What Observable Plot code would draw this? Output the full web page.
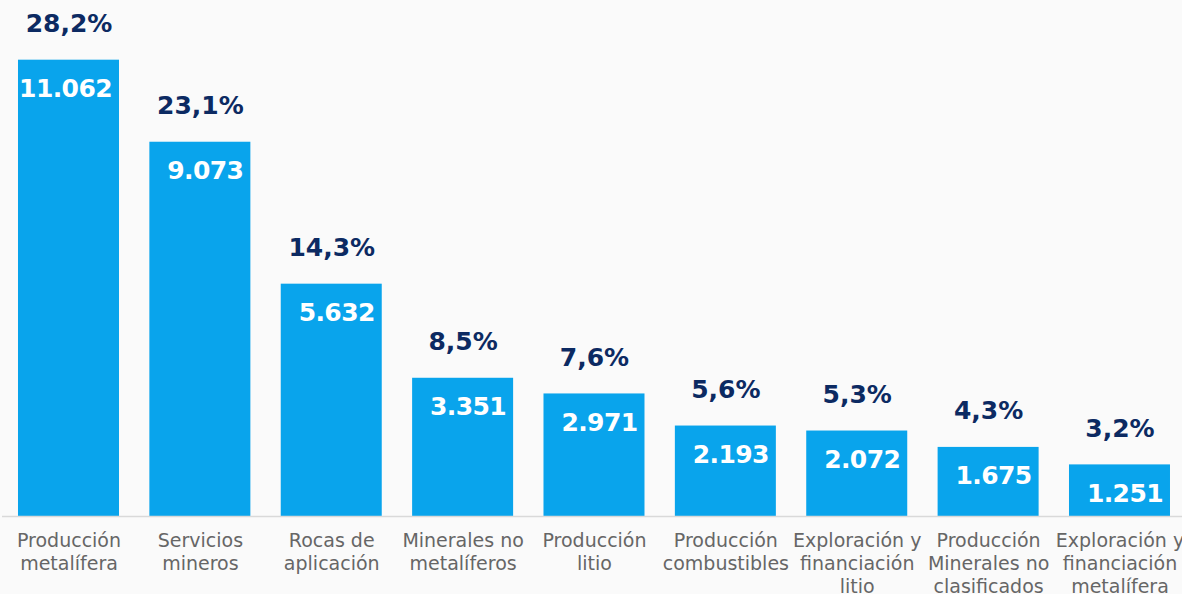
<!DOCTYPE html>
<html>
<head>
<meta charset="utf-8">
<script src="https://cdn.jsdelivr.net/npm/d3@7"></script>
<script src="https://cdn.jsdelivr.net/npm/@observablehq/plot@0.6"></script>
<style>
  html, body { margin: 0; padding: 0; background: #fafafa; }
  #chart svg { display: block; background: #fafafa; }
</style>
</head>
<body>
<div id="chart"></div>
<script>
const categories = [
  "Producción\nmetalífera",
  "Servicios\nmineros",
  "Rocas de\naplicación",
  "Minerales no\nmetalíferos",
  "Producción\nlitio",
  "Producción\ncombustibles",
  "Exploración y\nfinanciación\nlitio",
  "Producción\nMinerales no\nclasificados",
  "Exploración y\nfinanciación\nmetalífera"
];
const values = [11062, 9073, 5632, 3351, 2971, 2193, 2072, 1675, 1251];
const valueLabels = ["11.062", "9.073", "5.632", "3.351", "2.971", "2.193", "2.072", "1.675", "1.251"];
const shareLabels = ["28,2%", "23,1%", "14,3%", "8,5%", "7,6%", "5,6%", "5,3%", "4,3%", "3,2%"];

const data = categories.map((c, i) => ({
  cat: c, value: values[i], vlab: valueLabels[i], plab: shareLabels[i]
}));

const barColor = "#09a4ec";
const navy = "#0c2a62";
const font = "DejaVu Sans";

const chart = Plot.plot({
  width: 1182,
  height: 594,
  marginLeft: 2,
  marginRight: 0,
  marginTop: 21,
  marginBottom: 78,
  style: { fontFamily: font, background: "#fafafa", overflow: "visible" },
  x: { domain: categories, paddingInner: 0.2312, paddingOuter: 0.1066, align: 0.571, round: false, label: null },
  y: { domain: [0, 12000], axis: null },
  marks: [
    Plot.barY(data, { x: "cat", y: "value", fill: barColor }),
    Plot.ruleY([0], { stroke: "#d9d9d9", strokeWidth: 1.5 }),
    Plot.text(data, {
      x: "cat", y: "value", text: "plab", dy: -36, lineAnchor: "middle",
      fill: navy, fontSize: 25, fontWeight: "bold", fontFamily: font
    }),
    Plot.text(data, {
      x: "cat", y: "value", text: "vlab", dy: 29, dx: 43, textAnchor: "end",
      lineAnchor: "middle", fill: "white", fontSize: 25, fontWeight: "bold", fontFamily: font
    }),
    Plot.axisX({
      tickSize: 0, tickPadding: 14, fontSize: 19, lineHeight: 1.21,
      fill: "#666666", fontFamily: font, label: null
    })
  ]
});
document.getElementById("chart").appendChild(chart);
d3.select(chart).selectAll("g[aria-label='text'] text")
  .filter(function() { return this.getAttribute("fill") === "white" || (this.parentNode && this.parentNode.getAttribute("fill") === "white"); })
  .style("letter-spacing", "-0.6px");
</script>
</body>
</html>
